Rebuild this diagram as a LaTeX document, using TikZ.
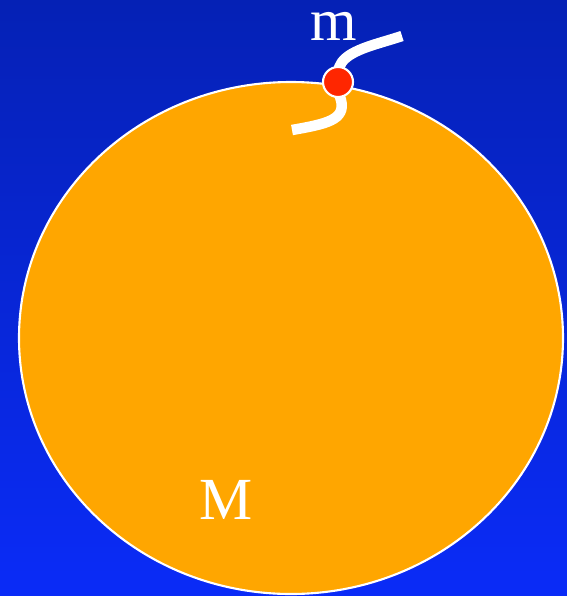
\documentclass[tikz,border=0pt]{standalone}
\usepackage{fontspec}
\setmainfont{Liberation Serif}
\definecolor{skyTop}{rgb}{0.02,0.13,0.71}
\definecolor{skyBot}{rgb}{0.04,0.17,0.97}
\definecolor{planet}{rgb}{1.0,0.65,0.0}
\definecolor{dotR}{rgb}{1.0,0.15,0.0}
\begin{document}
\begin{tikzpicture}[x=0.02cm, y=-0.02cm, line cap=butt]
% ---------- 背景 ----------
\shade[top color=skyTop, bottom color=skyBot] (0,0) rectangle (567,596);
\useasboundingbox (0,0) rectangle (567,596);
% ---------- 大球 M ----------
\draw[white, line width=1.2pt, fill=planet] (291,338) ellipse (272 and 256);
\node[text=white, inner sep=0pt, font=\fontsize{34}{34}\selectfont] (bigM) at (226,500) {M};
% ---------- 路径与小球 m ----------
\draw[white, line width=0.21cm] (292,130) .. controls (326,124) and (346,120) .. (341,100)
  .. controls (337,88) and (334,74) .. (342,62) .. controls (352,49) and (378,44) .. (402,36);
\node[circle, draw=white, line width=1.2pt, fill=dotR, minimum size=0.6cm, inner sep=0pt] (mass) at (338,82) {};
\node[text=white, inner sep=0pt, font=\fontsize{34}{34}\selectfont, anchor=base] (smallM) at (334,40) {m};
\end{tikzpicture}
\end{document}
